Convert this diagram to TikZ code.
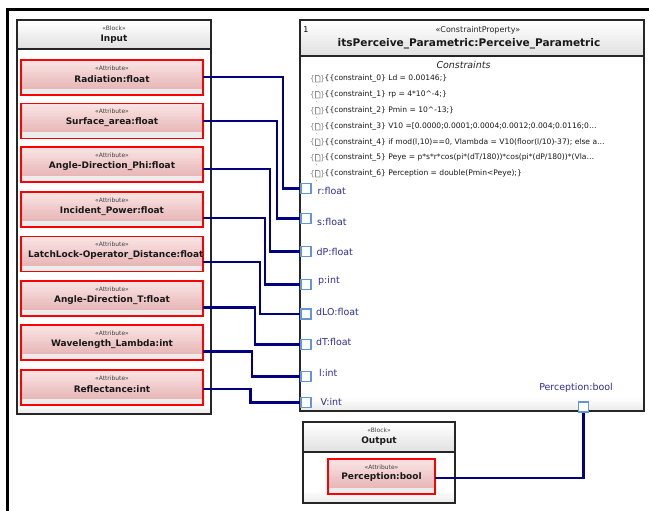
\documentclass[tikz,border=0pt]{standalone}
\usepackage{fontspec}
\setmainfont{DejaVu Sans}
\usetikzlibrary{calc}
\definecolor{navy}{RGB}{0,0,128}
\definecolor{portblue}{RGB}{100,150,215}
\definecolor{labelblue}{RGB}{45,45,150}
\definecolor{attrtop}{RGB}{250,228,228}
\definecolor{attrbot}{RGB}{232,184,184}
\definecolor{attrred}{RGB}{255,0,0}
\definecolor{stripgray}{RGB}{236,236,236}
\definecolor{hdrbot}{RGB}{226,226,226}
\definecolor{icongray}{RGB}{140,140,140}
\tikzset{
  attr/.style={rectangle, anchor=north west, minimum width=182bp, minimum height=35bp, inner sep=0pt, outer sep=0pt},
  stereo/.style={inner sep=0pt, font=\fontsize{6}{6}\selectfont, text=black!75},
  aname/.style={inner sep=0pt, font=\fontsize{9}{9}\selectfont\bfseries, text=black!90},
  bname/.style={inner sep=0pt, font=\fontsize{9}{9}\selectfont\bfseries, text=black!90},
  blockline/.style={draw=black!85, line width=1.2bp},
  port/.style={rectangle, minimum width=10bp, minimum height=10bp, inner sep=0pt, outer sep=0pt},
  portdraw/.style={draw=portblue, fill=white, line width=1.2bp},
  plabel/.style={inner sep=0pt, anchor=west, font=\fontsize{9.5}{9.5}\selectfont, text=labelblue},
  ctext/.style={inner sep=0pt, anchor=west, font=\fontsize{7.6}{7.6}\selectfont, text=black!90},
  conn/.style={draw=navy, line width=2.4bp},
}
% vertical gradient made of bands: x1,y1,x2,y2,topcolor,bottomcolor
\newcommand\vgrad[6]{%
  \foreach \k in {0,...,11}{%
    \pgfmathtruncatemacro\pct{round(\k*100/11)}%
    \fill[#6!\pct!#5] ({#1},{#2+(#4-#2)*\k/12}) rectangle ({#3},{#2+(#4-#2)*(\k+1)/12+0.4});%
  }%
}
\newcommand\attrbg[4]{% x1,y1,x2,y2
  \vgrad{#1}{#2}{#3}{#4-6}{attrtop}{attrbot}
  \fill[stripgray] (#1,#4-6) rectangle (#3,#4);
  \draw[draw=attrred, line width=1.3bp] (#1,#2) rectangle (#3,#4);
}
\newcommand\myattr[3]{% name, top y, text
  \attrbg{21}{#2}{203}{#2+35}
  \node[attr] (#1) at (21,#2) {};
  \node[stereo] (#1st) at ($(#1.north)+(0,7.8)$) {«Attribute»};
  \node[aname] (#1tx) at ($(#1.north)+(0,19)$) {#3};
}
\newcommand\myicon[2]{% name, y
  \node[inner sep=0pt, font=\fontsize{8}{8}\selectfont, text=icongray] (#1) at (317.5,#2) {\{\,\,\,\,\}};
  \draw[icongray, line width=0.7bp] (315.5,#2-3.5) -- (318.5,#2-3.5) -- (320,#2-2) -- (320,#2+3) -- (315.5,#2+3) -- cycle;
  \fill[orange!70] (315.6,#2+6) rectangle (316.6,#2+7);
}
\begin{document}
\begin{tikzpicture}[x=1bp,y=-1bp]
\useasboundingbox (0,0) rectangle (649,511);
\fill[white] (0,0) rectangle (649,511);
% diagram frame
\draw[line width=3bp, black] (7.5,512) -- (7.5,10) -- (650,10);

% ---------- Input block ----------
\vgrad{17}{20}{211}{49}{white}{hdrbot}
\vgrad{17}{403}{211}{414}{white}{stripgray}
\node[blockline, anchor=north west, minimum width=194bp, minimum height=394bp, inner sep=0pt, outer sep=0pt] (inp) at (17,20) {};
\draw[blockline] (17,49) -- (211,49);
\node[stereo] (inpst) at (114,28) {«Block»};
\node[bname] (inptx) at (114,39.5) {Input};

\myattr{a1}{60}{Radiation:float}
\myattr{a2}{103.5}{Surface\_area:float}
\myattr{a3}{147}{Angle-Direction\_Phi:float}
\myattr{a4}{192}{Incident\_Power:float}
\attrbg{21}{236.5}{203}{271.5}
\node[attr] (a5) at (21,236.5) {};
\node[stereo] (a5st) at ($(a5.north)+(0,7.8)$) {«Attribute»};
\begin{scope}
  \clip (a5.north west) rectangle ([xshift=-1bp]a5.south east);
  \node[aname, anchor=west] (a5tx) at ($(a5.north west)+(7,19)$) {LatchLock-Operator\_Distance:float};
\end{scope}
\myattr{a6}{281}{Angle-Direction\_T:float}
\myattr{a7}{325}{Wavelength\_Lambda:int}
\myattr{a8}{370}{Reflectance:int}

% ---------- Constraint property ----------
\vgrad{300}{20}{644}{56}{white}{hdrbot}
\vgrad{300}{397}{644}{411}{white}{stripgray}
\node[blockline, anchor=north west, minimum width=344bp, minimum height=391bp, inner sep=0pt, outer sep=0pt] (cp) at (300,20) {};
\draw[blockline] (300,56) -- (644,56);
\node[inner sep=0pt, font=\fontsize{8}{8}\selectfont] (cpn) at (306,30) {1};
\node[inner sep=0pt, font=\fontsize{8}{8}\selectfont, text=black!85] (cpst) at (478,30) {«ConstraintProperty»};
\node[inner sep=0pt, font=\fontsize{10.6}{10.6}\selectfont\bfseries, text=black!90] (cptx) at (469,44) {itsPerceive\_Parametric:Perceive\_Parametric};
\node[inner sep=0pt, font=\fontsize{9.5}{9.5}\selectfont\itshape, text=black!85] (cpc) at (463.5,65) {Constraints};

\myicon{i0}{79}
\myicon{i1}{95}
\myicon{i2}{111}
\myicon{i3}{127}
\myicon{i4}{142.5}
\myicon{i5}{158}
\myicon{i6}{174}
\node[ctext] (c0) at (324.5,79) {\{\{constraint\_0\} Ld = 0.00146;\}};
\node[ctext] (c1) at (324.5,95) {\{\{constraint\_1\} rp = 4*10\^{}-4;\}};
\node[ctext] (c2) at (324.5,111) {\{\{constraint\_2\} Pmin = 10\^{}-13;\}};
\node[ctext] (c3) at (324.5,127) {\{\{constraint\_3\} V10 =[0.0000;0.0001;0.0004;0.0012;0.004;0.0116;0…};
\node[ctext] (c4) at (324.5,142.5) {\{\{constraint\_4\} if mod(l,10)==0, Vlambda = V10(floor(l/10)-37); else a…};
\node[ctext] (c5) at (324.5,158) {\{\{constraint\_5\} Peye = p*s*r*cos(pi*(dT/180))*cos(pi*(dP/180))*(Vla…};
\node[ctext] (c6) at (324.5,174) {\{\{constraint\_6\} Perception = double(Pmin<Peye);\}};

% ports (named nodes)
\node[port] (p1) at (306,188.5) {};
\node[port] (p2) at (306,218.5) {};
\node[port] (p3) at (306,251.5) {};
\node[port] (p4) at (306,284.5) {};
\node[port] (p5) at (306,314) {};
\node[port] (p6) at (306,344.5) {};
\node[port] (p7) at (306,376.5) {};
\node[port] (p8) at (306,402.5) {};
\node[port] (pout) at (583.5,407) {};

% ---------- Output block ----------
\vgrad{303}{422}{455}{452}{white}{hdrbot}
\vgrad{303}{490}{455}{503}{white}{stripgray}
\node[blockline, anchor=north west, minimum width=152bp, minimum height=81bp, inner sep=0pt, outer sep=0pt] (outb) at (303,422) {};
\draw[blockline] (303,452) -- (455,452);
\node[stereo] (outst) at (379,430) {«Block»};
\node[bname] (outtx) at (379,441.5) {Output};
\attrbg{328}{459}{435}{494}
\node[attr, minimum width=107bp] (ao) at (328,459) {};
\node[stereo] (aost) at ($(ao.north)+(0,8.5)$) {«Attribute»};
\node[aname] (aotx) at ($(ao.north)+(0,18.5)$) {Perception:bool};

% connectors
\draw[conn] ([yshift=0.5bp]a1.east) -| ([xshift=-18bp]p1.west) -- (p1.west);
\draw[conn] (a2.east) -| ([xshift=-24bp]p2.west) -- (p2.west);
\draw[conn] ([yshift=-4.5bp]a3.east) -| ([xshift=-31bp]p3.west) -- (p3.west);
\draw[conn] ([yshift=-8.5bp]a4.east) -| ([xshift=-36bp]p4.west) -- (p4.west);
\draw[conn] ([yshift=-8bp]a5.east) -| ([xshift=-41bp]p5.west) -- (p5.west);
\draw[conn] ([yshift=-9bp]a6.east) -| ([xshift=-46bp]p6.west) -- (p6.west);
\draw[conn] ([yshift=-9bp]a7.east) -| ([xshift=-49bp]p7.west) -- (p7.west);
\draw[conn] ([yshift=-1.5bp]a8.east) -| ([xshift=-50.5bp]p8.west) -- (p8.west);
\draw[conn] ([yshift=-1.5bp]ao.east) -| (pout.south);

% port squares on top
\foreach \p in {p1,p2,p3,p4,p5,p6,p7,p8,pout} {\path[portdraw] (\p.south west) rectangle (\p.north east);}

% port labels
\node[plabel] (l1) at (317.5,190.5) {r:float};
\node[plabel] (l2) at (317,221.5) {s:float};
\node[plabel] (l3) at (316.5,251.5) {dP:float};
\node[plabel] (l4) at (318,280.5) {p:int};
\node[plabel] (l5) at (316,312) {dLO:float};
\node[plabel] (l6) at (316,342) {dT:float};
\node[plabel] (l7) at (319,372.5) {l:int};
\node[plabel] (l8) at (320.5,402) {V:int};
\node[plabel, anchor=center] (lout) at (576,388) {Perception:bool};
\end{tikzpicture}
\end{document}
